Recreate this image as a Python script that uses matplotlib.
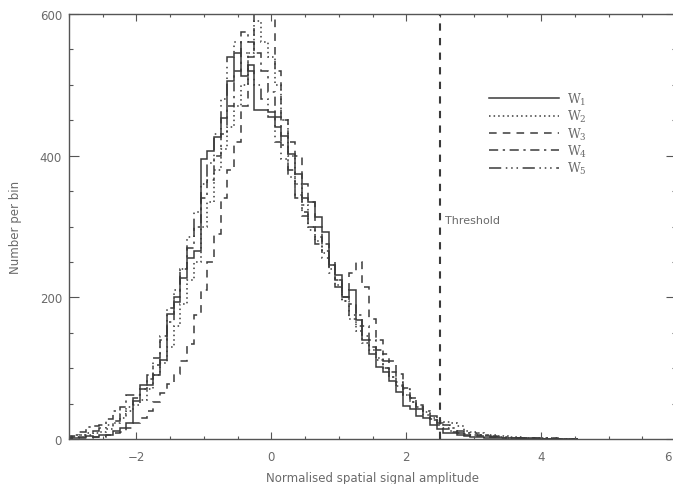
import numpy as np
import matplotlib
matplotlib.use("Agg")
import matplotlib.pyplot as plt
from matplotlib.ticker import MultipleLocator

# Histogram bin centres (bin width 0.1)
bin_centres = np.round(np.arange(-3.0, 4.51, 0.1), 2)

w1 = [3, 2, 3, 4, 3, 5, 6, 12, 15, 22,
      53, 76, 76, 91, 112, 177, 194, 228, 255, 266,
      395, 407, 427, 453, 506, 545, 512, 528, 465, 465,
      462, 440, 428, 402, 374, 340, 334, 314, 292, 245,
      232, 200, 210, 168, 140, 120, 101, 95, 82, 67,
      46, 43, 33, 29, 20, 14, 9, 8, 5, 4,
      3, 3, 2, 2, 1, 1, 1, 1, 0, 0,
      0, 0, 0, 0, 0, 0]
w2 = [2, 3, 5, 6, 8, 10, 14, 22, 30, 40,
      48, 55, 70, 90, 108, 130, 160, 190, 225, 250,
      300, 335, 380, 410, 440, 470, 500, 545, 590, 560,
      540, 500, 450, 400, 360, 330, 300, 280, 262, 240,
      218, 195, 170, 152, 135, 125, 112, 100, 88, 75,
      62, 52, 45, 38, 30, 26, 24, 22, 18, 12,
      10, 8, 6, 5, 4, 4, 3, 3, 2, 2,
      2, 1, 1, 0, 0, 0]
w3 = [0, 1, 1, 2, 3, 3, 5, 8, 10, 15,
      22, 30, 40, 52, 65, 78, 92, 110, 134, 175,
      210, 250, 290, 340, 380, 420, 470, 540, 610, 640,
      610, 520, 450, 420, 400, 360, 335, 300, 275, 250,
      225, 210, 235, 250, 215, 170, 140, 120, 110, 92,
      72, 58, 45, 35, 28, 20, 14, 10, 8, 6,
      5, 4, 3, 3, 2, 2, 1, 1, 1, 1,
      0, 0, 0, 0, 0, 0]
w4 = [4, 6, 10, 17, 18, 20, 28, 39, 45, 62,
      62, 70, 85, 105, 140, 165, 200, 240, 270, 300,
      340, 365, 400, 430, 470, 520, 575, 560, 545, 520,
      490, 455, 415, 380, 345, 320, 300, 285, 265, 245,
      225, 200, 190, 175, 160, 140, 125, 110, 95, 80,
      70, 58, 48, 40, 32, 25, 20, 15, 12, 9,
      8, 6, 5, 4, 3, 3, 2, 2, 2, 1,
      1, 1, 1, 0, 0, 0]
w5 = [2, 4, 6, 8, 12, 15, 20, 25, 35, 45,
      58, 70, 90, 115, 145, 185, 210, 240, 285, 320,
      360, 390, 430, 480, 540, 560, 545, 520, 500, 480,
      455, 420, 395, 370, 340, 315, 295, 275, 255, 235,
      215, 195, 175, 160, 145, 130, 115, 100, 88, 76,
      62, 52, 42, 34, 27, 22, 16, 12, 9, 7,
      6, 5, 4, 3, 3, 2, 2, 1, 1, 1,
      1, 0, 0, 0, 0, 0]

series = [w1, w2, w3, w4, w5]
labels = [r"$\mathrm{W}_1$", r"$\mathrm{W}_2$", r"$\mathrm{W}_3$",
          r"$\mathrm{W}_4$", r"$\mathrm{W}_5$"]
styles = ["-", (0, (1, 2)), (0, (5, 4)), (0, (6, 3, 1.5, 3)),
          (0, (8, 3, 1, 2.5, 1, 2.5, 1, 3))]

x_ticks = [-2, 0, 2, 4, 6]
x_tick_labels = ["\u22122", "0", "2", "4", "6"]

threshold = 2.5

ink = "#3a3a3a"
text_col = "#6a6a6a"
plt.rcParams["mathtext.fontset"] = "dejavuserif"

fig = plt.figure(figsize=(6.73, 4.85), dpi=100)
ax = fig.add_axes([69 / 673, 45 / 485, 607 / 673, 425 / 485])

edges = np.append(bin_centres - 0.05, bin_centres[-1] + 0.05)
for vals, lab, ls in zip(series, labels, styles):
    ax.stairs(vals, edges, color=ink, linewidth=1.1, linestyle=ls, label=lab)

ax.axvline(threshold, color=ink, linewidth=1.5, linestyle=(0, (3.5, 3.5)))
ax.text(threshold + 0.07, 309, "Threshold", color=text_col, fontsize=8,
        ha="left", va="center")

ax.set_xlim(-3, 6)
ax.set_ylim(0, 600)
ax.xaxis.set_minor_locator(MultipleLocator(0.5))
ax.yaxis.set_major_locator(MultipleLocator(200))
ax.yaxis.set_minor_locator(MultipleLocator(50))
ax.set_xticks(x_ticks)
# the last label sits on the figure edge, so it is placed separately below
ax.set_xticklabels(x_tick_labels[:-1] + [""])

ax.tick_params(axis="x", which="major", direction="in", length=5, width=0.8,
               top=True, colors="#555555", labelcolor=text_col, labelsize=8.5,
               pad=8)
ax.tick_params(axis="x", which="minor", direction="in", length=2.5, width=0.8,
               top=True, colors="#555555")
ax.tick_params(axis="y", which="major", direction="in", length=7, width=0.8,
               right=True, colors="#555555", labelcolor=text_col, labelsize=8.5,
               pad=5)
ax.tick_params(axis="y", which="minor", direction="in", length=3, width=0.8,
               right=True, colors="#555555")

fig.text(672 / 673, 1 - 451 / 485, x_tick_labels[-1], color=text_col,
         fontsize=8.5, ha="right", va="top")

for sp in ax.spines.values():
    sp.set_color("#555555")
    sp.set_linewidth(1.0)

ax.set_xlabel("Normalised spatial signal amplitude", color=text_col,
              fontsize=8.5, labelpad=6)
ax.set_ylabel("Number per bin", color=text_col, fontsize=8.5, labelpad=13)

leg = ax.legend(loc="upper left", bbox_to_anchor=(0.682, 0.834), frameon=False,
                handlelength=5.6, handletextpad=0.6, labelspacing=0.1,
                fontsize=9, borderpad=0)
for t in leg.get_texts():
    t.set_color(text_col)

fig.savefig("out.png", dpi=100)
